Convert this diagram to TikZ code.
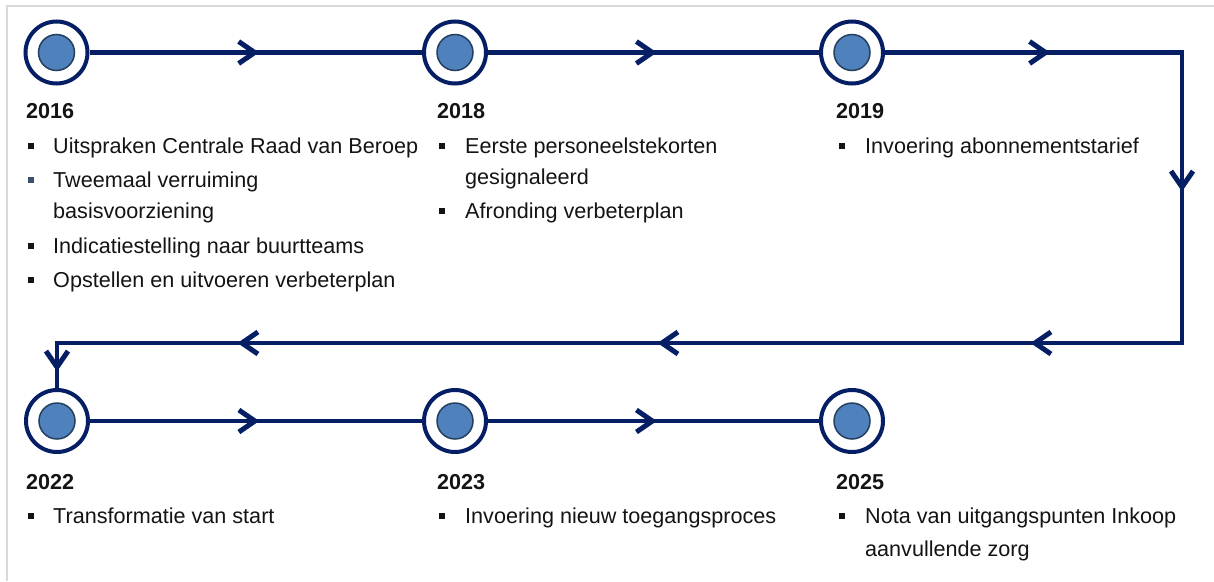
\documentclass[tikz,border=0pt]{standalone}
\usepackage{fontspec}
\setmainfont{Liberation Sans}
\usetikzlibrary{arrows.meta,decorations.markings}
\definecolor{navy}{RGB}{5,30,100}
\definecolor{dotblue}{RGB}{79,129,189}
\definecolor{dotedge}{RGB}{36,63,96}
\definecolor{framegray}{RGB}{217,217,217}
\definecolor{bulblue}{RGB}{60,80,110}
\definecolor{txt}{RGB}{20,20,20}
\tikzset{
  chevron/.tip={Straight Barb[length=16pt,width=22pt,line width=5pt]},
  ring/.style={circle, draw=navy, line width=4pt, fill=white, minimum size=62pt, inner sep=0pt},
  dot/.style={circle, draw=dotedge, line width=1.5pt, fill=dotblue, minimum size=36pt, inner sep=0pt},
  conn/.style={draw=navy, line width=4.5pt},
  yearlabel/.style={anchor=base west, inner sep=0pt, text=txt, font=\bfseries\fontsize{21.6}{26}\selectfont},
  itemlabel/.style={anchor=base west, inner sep=0pt, text=txt, font=\fontsize{21.6}{26}\selectfont},
  bul/.style={rectangle, fill=txt, minimum size=6.5pt, inner sep=0pt},
}
\begin{document}
\begin{tikzpicture}[x=1pt,y=-1pt]
\useasboundingbox (0,0) rectangle (1214,581);
\fill[white] (0,0) rectangle (1214,581);
% frame lines
\draw[framegray, line width=2pt] (7,581) -- (7,6) -- (1214,6);

% milestones
\node[ring] (r1) at (56.5,52.5) {};
\node[ring] (r2) at (455,52.5) {};
\node[ring] (r3) at (852,52.5) {};
\node[ring] (r4) at (57,421) {};
\node[ring] (r5) at (455,421) {};
\node[ring] (r6) at (852,421) {};
\node[dot] (d1) at (r1) {};
\node[dot] (d2) at (r2) {};
\node[dot] (d3) at (r3) {};
\node[dot] (d4) at (r4) {};
\node[dot] (d5) at (r5) {};
\node[dot] (d6) at (r6) {};

\coordinate (tr) at (1182,52.5);
\coordinate (br) at (1182,343);
\coordinate (bl) at (57,343);

% connectors
\draw[conn, decoration={markings, mark=at position 0.51 with {\arrow{chevron}}}, postaction={decorate}] (r1) -- (r2);
\draw[conn, decoration={markings, mark=at position 0.51 with {\arrow{chevron}}}, postaction={decorate}] (r2) -- (r3);
\draw[conn, line join=miter, decoration={markings,
   mark=at position 165pt with {\arrow{chevron}},
   mark=at position 436pt with {\arrow{chevron}},
   mark=at position 739pt with {\arrow{chevron}},
   mark=at position 1112pt with {\arrow{chevron}},
   mark=at position 1532pt with {\arrow{chevron}},
   mark=at position 1741pt with {\arrow{chevron}}}, postaction={decorate}]
   (r3) -- (tr) -- (br) -- (bl) -- (r4);
\draw[conn, decoration={markings, mark=at position 0.51 with {\arrow{chevron}}}, postaction={decorate}] (r4) -- (r5);
\draw[conn, decoration={markings, mark=at position 0.51 with {\arrow{chevron}}}, postaction={decorate}] (r5) -- (r6);

% column 2016
\node[yearlabel] (y1) at (26,118) {2016};
\node[bul] (b1a) at (31,146) {};
\node[itemlabel] (t1a) at (53,153) {Uitspraken Centrale Raad van Beroep};
\node[bul, fill=bulblue] (b1b) at (31,180) {};
\node[itemlabel] (t1b) at (53,187) {Tweemaal verruiming};
\node[itemlabel] (t1c) at (53,218) {basisvoorziening};
\node[bul] (b1d) at (31,246) {};
\node[itemlabel] (t1d) at (53,253) {Indicatiestelling naar buurtteams};
\node[bul] (b1e) at (31,280) {};
\node[itemlabel] (t1e) at (53,287) {Opstellen en uitvoeren verbeterplan};

% column 2018
\node[yearlabel] (y2) at (437,118) {2018};
\node[bul] (b2a) at (442,146) {};
\node[itemlabel] (t2a) at (465,153) {Eerste personeelstekorten};
\node[itemlabel] (t2b) at (465,184) {gesignaleerd};
\node[bul] (b2c) at (442,211) {};
\node[itemlabel] (t2c) at (465,218) {Afronding verbeterplan};

% column 2019
\node[yearlabel] (y3) at (836,118) {2019};
\node[bul] (b3a) at (842,146) {};
\node[itemlabel] (t3a) at (865,153) {Invoering abonnementstarief};

% column 2022
\node[yearlabel] (y4) at (26,489) {2022};
\node[bul] (b4a) at (31,516) {};
\node[itemlabel] (t4a) at (53,523) {Transformatie van start};

% column 2023
\node[yearlabel] (y5) at (437,489) {2023};
\node[bul] (b5a) at (442,516) {};
\node[itemlabel] (t5a) at (465,523) {Invoering nieuw toegangsproces};

% column 2025
\node[yearlabel] (y6) at (836,489) {2025};
\node[bul] (b6a) at (842,516) {};
\node[itemlabel] (t6a) at (865,523) {Nota van uitgangspunten Inkoop};
\node[itemlabel] (t6b) at (865,556) {aanvullende zorg};
\end{tikzpicture}
\end{document}
